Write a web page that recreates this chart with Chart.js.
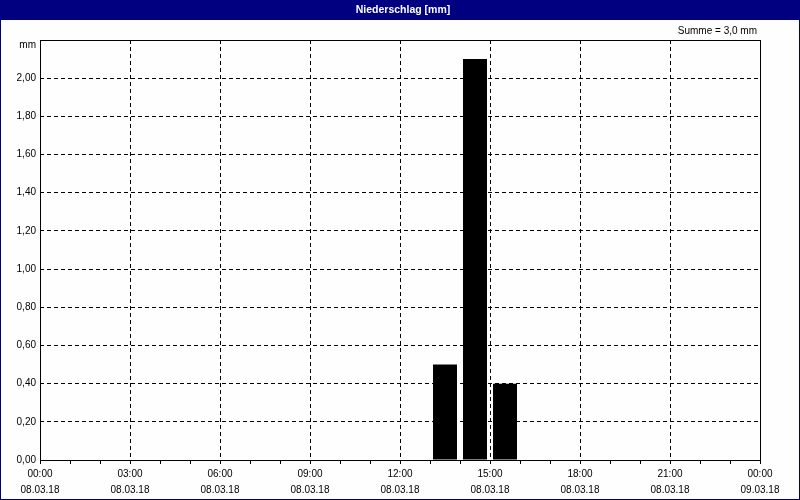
<!DOCTYPE html>
<html><head><meta charset="utf-8">
<script src="https://cdn.jsdelivr.net/npm/chart.js@4/dist/chart.umd.min.js"></script>
<style>html,body{margin:0;padding:0;background:#fff}#wrap{width:800px;height:500px}</style>
</head><body><div id="wrap"><canvas id="c" width="800" height="500"></canvas></div>
<script>
// Hourly precipitation sums, bar centre = middle of the hour (hours since 08.03.18 00:00)
const hours = [13.5, 14.5, 15.5];
const precip = [0.5, 2.1, 0.4];
const hourLabels = ['00:00','03:00','06:00','09:00','12:00','15:00','18:00','21:00','00:00'];
const dateLabels = ['08.03.18','08.03.18','08.03.18','08.03.18','08.03.18','08.03.18','08.03.18','08.03.18','09.03.18'];
const titleText = 'Niederschlag [mm]';
const sumText = 'Summe = 3,0 mm';
const unitText = 'mm';

const FONT = "'Liberation Sans Narrow','Liberation Sans',Arial,sans-serif";

const frame = {
  id: 'frame',
  beforeDraw(chart) {
    const c = chart.ctx;
    c.save();
    c.fillStyle = '#fefefe';
    c.fillRect(0, 0, chart.width, chart.height);
    c.restore();
  },
  afterDatasetsDraw(chart) {
    const c = chart.ctx, a = chart.chartArea;
    c.save();
    c.strokeStyle = '#000';
    c.lineWidth = 1;
    c.strokeRect(Math.round(a.left) + 0.5, Math.round(a.top) + 0.5, Math.round(a.right - a.left), Math.round(a.bottom - a.top));
    c.restore();
  },
  afterDraw(chart) {
    const c = chart.ctx, a = chart.chartArea;
    c.save();
    c.fillStyle = '#000080';
    c.fillRect(0, 0, chart.width, 20);
    c.strokeStyle = '#000080';
    c.lineWidth = 1;
    c.strokeRect(0.5, 0.5, chart.width - 1, chart.height - 1);
    c.fillStyle = '#fff';
    c.font = "bold 10.5px " + FONT;
    c.textAlign = 'center';
    c.textBaseline = 'middle';
    c.fillText(titleText, chart.width / 2 + 3, 10);
    c.fillStyle = '#000';
    c.font = "10px " + FONT;
    c.textAlign = 'right';
    c.fillText(sumText, a.right - 3, 31);
    c.fillText(unitText, a.left - 4, a.top + 5);
    c.restore();
  }
};

new Chart(document.getElementById('c'), {
  type: 'bar',
  data: {
    datasets: [{
      data: hours.map((x, i) => ({ x: x, y: precip[i] })),
      backgroundColor: '#000',
      borderWidth: 0,
      barPercentage: 1,
      categoryPercentage: 0.8
    }]
  },
  options: {
    responsive: false,
    animation: false,
    devicePixelRatio: 1,
    layout: { padding: { left: 0, right: 40, top: 40, bottom: 0 } },
    plugins: { legend: { display: false }, tooltip: { enabled: false }, title: { display: false } },
    scales: {
      x: {
        type: 'linear',
        min: 0, max: 24,
        offset: false,
        grid: {
          offset: false,
          color: (ctx) => { const v = ctx.tick ? ctx.tick.value : -1; return (v % 3 === 0 && v > 0 && v < 24) ? '#000' : 'rgba(0,0,0,0)'; },
          tickColor: '#000',
          tickLength: 4,
          lineWidth: 1
        },
        border: { display: false, dash: [4, 3] },
        ticks: {
          stepSize: 1,
          autoSkip: false,
          maxRotation: 0,
          padding: 2,
          color: '#000',
          font: { family: FONT, size: 10, lineHeight: 1.6 },
          callback: (v) => (v % 3 === 0) ? [hourLabels[v / 3], dateLabels[v / 3]] : ''
        },
        afterFit: (s) => { s.height = 40; }
      },
      y: {
        min: 0, max: 2.2,
        grid: {
          drawTicks: false,
          color: (ctx) => { const v = ctx.tick ? ctx.tick.value : 0; return (v > 0.01 && v < 2.19) ? '#000' : 'rgba(0,0,0,0)'; },
          lineWidth: 1
        },
        border: { display: false, dash: [4, 3] },
        ticks: {
          stepSize: 0.2,
          padding: 4,
          color: '#000',
          font: { family: FONT, size: 10 },
          callback: (v) => v > 2.19 ? '' : Number(v).toFixed(2).replace('.', ',')
        },
        afterFit: (s) => { s.width = 40; }
      }
    }
  },
  plugins: [frame]
});
</script>
</body></html>
